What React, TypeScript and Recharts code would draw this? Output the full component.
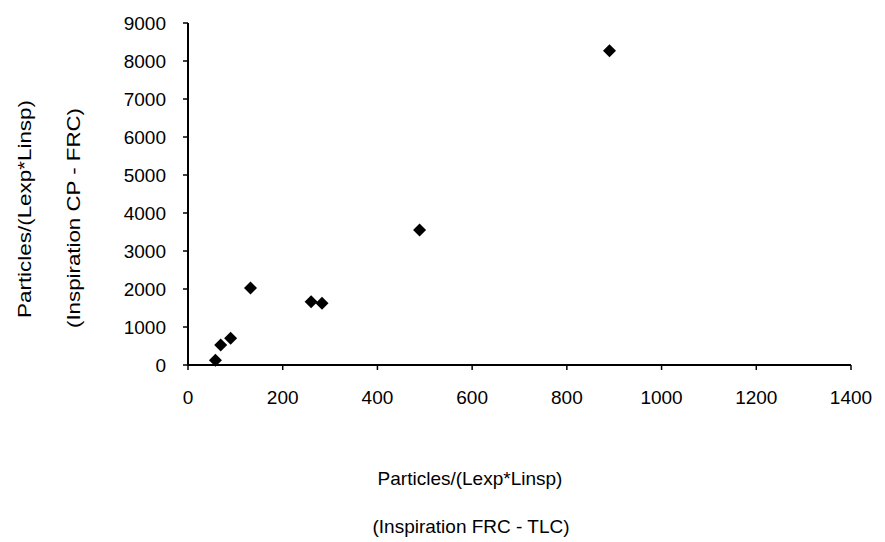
import { Label, Scatter, ScatterChart, XAxis, YAxis } from "recharts";

const xValues = [58, 69, 90, 132, 260, 283, 489, 890];
const yValues = [124, 528, 705, 2024, 1662, 1628, 3554, 8272];
const xTicks = [0, 200, 400, 600, 800, 1000, 1200, 1400];
const yTicks = [0, 1000, 2000, 3000, 4000, 5000, 6000, 7000, 8000, 9000];

const points = xValues.map((x, i) => ({ x, y: yValues[i] }));

const font = "'Liberation Sans', Arial, sans-serif";

function Diamond(props: any) {
  const { cx, cy } = props;
  const r = 6.5;
  return <polygon points={`${cx},${cy - r} ${cx + r},${cy} ${cx},${cy + r} ${cx - r},${cy}`} fill="#000" />;
}

export default function App() {
  return (
    <div style={{ position: "absolute", left: 0, top: 0, width: 885, height: 542, background: "#fff" }}>
      <ScatterChart width={885} height={542} margin={{ top: 23, right: 34, bottom: 0, left: 0 }}>
        <XAxis
          type="number"
          dataKey="x"
          domain={[0, 1400]}
          ticks={xTicks}
          height={177}
          axisLine={{ stroke: "#000", strokeWidth: 2 }}
          tickLine={{ stroke: "#000", strokeWidth: 1.5 }}
          tickSize={5}
          tickMargin={21}
          tick={{ fill: "#000", fontSize: 19, fontFamily: font }}
        >
          <Label
            content={() => (
              <g fontFamily={font} fontSize={19} fill="#000" textAnchor="middle">
                <text x={470} y={485}>Particles/(Lexp*Linsp)</text>
                <text x={471} y={533}>(Inspiration FRC - TLC)</text>
              </g>
            )}
          />
        </XAxis>
        <YAxis
          type="number"
          dataKey="y"
          domain={[0, 9000]}
          ticks={yTicks}
          width={188}
          axisLine={{ stroke: "#000", strokeWidth: 2 }}
          tickLine={{ stroke: "#000", strokeWidth: 1.5 }}
          tickSize={5}
          tickMargin={17}
          tick={{ fill: "#000", fontSize: 19, fontFamily: font }}
        >
          <Label
            content={() => (
              <g fontFamily={font} fontSize={19} fill="#000" textAnchor="middle">
                <text
                  x={24}
                  y={209}
                  transform="rotate(-90 24 209)"
                  dominantBaseline="central"
                  textLength={218}
                  lengthAdjust="spacingAndGlyphs"
                >
                  Particles/(Lexp*Linsp)
                </text>
                <text
                  x={73}
                  y={218}
                  transform="rotate(-90 73 218)"
                  dominantBaseline="central"
                  textLength={220}
                  lengthAdjust="spacingAndGlyphs"
                >
                  (Inspiration CP - FRC)
                </text>
              </g>
            )}
          />
        </YAxis>
        <Scatter data={points} fill="#000" shape={<Diamond />} isAnimationActive={false} />
      </ScatterChart>
    </div>
  );
}
